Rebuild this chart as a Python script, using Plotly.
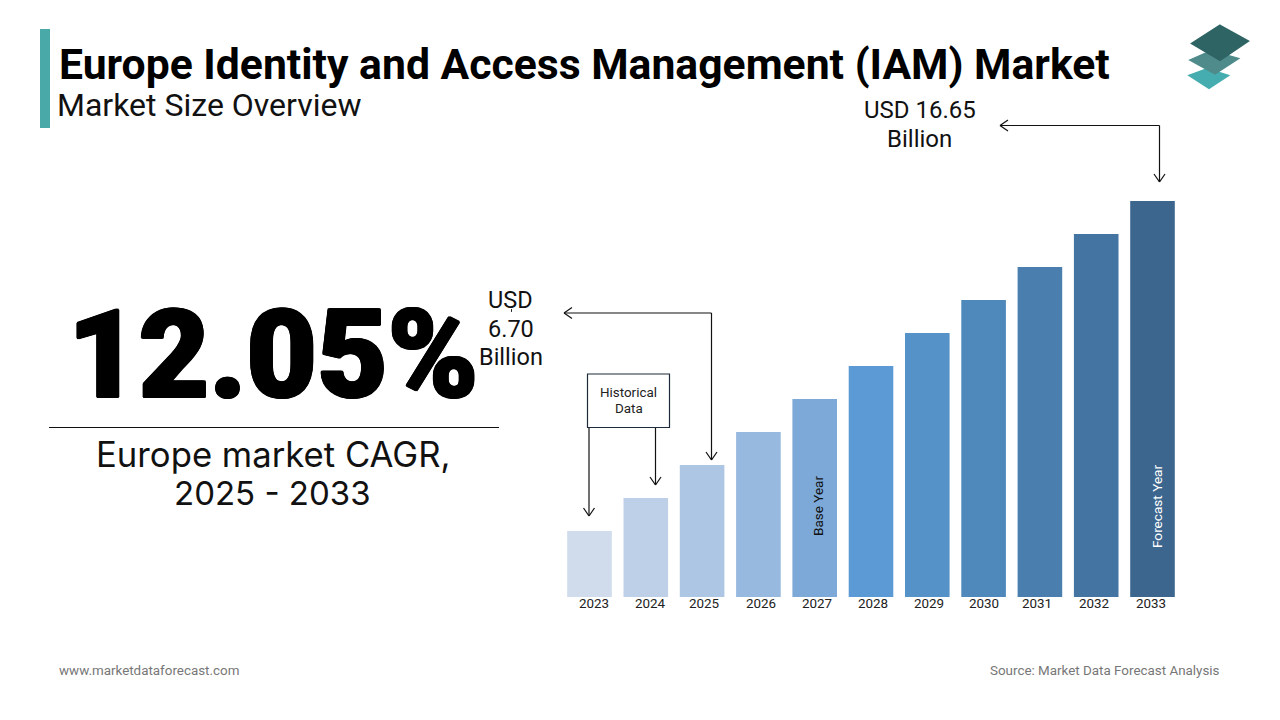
import plotly.graph_objects as go

years = [2023, 2024, 2025, 2026, 2027, 2028, 2029, 2030, 2031, 2032, 2033]
# Bar heights (relative units; the source chart is schematic)
bar_heights = [2, 3, 4, 5, 6, 7, 8, 9, 10, 11, 12]
bar_colors = ["#D0DCEC", "#BDD0E8", "#ADC6E3", "#97B8DF", "#7DA9D8", "#5C9AD5",
              "#5592C8", "#4F88BA", "#4A7EAE", "#4474A1", "#3C668E"]
label_shift_px = [4.5, 4.5, 2, 2.5, 2.5, 2, 2, 0.5, -3, -2, -1.8]

W, H = 1280, 720
STEP = 56.3
X0_PX = 589.5
BASE_PX = 597.0
UNIT_PX = 33.0

def px(x): return x / W
def py(y): return 1 - y / H

def line(x0, y0, x1, y1, color="#111111", width=1.2):
    return dict(type="line", xref="paper", yref="paper", x0=px(x0), y0=py(y0), x1=px(x1), y1=py(y1),
                line=dict(color=color, width=width))

def poly(points, fill):
    d = "M " + " L ".join(f"{px(a):.5f},{py(b):.5f}" for a, b in points) + " Z"
    return dict(type="path", xref="paper", yref="paper", path=d, fillcolor=fill,
                line=dict(color=fill, width=2), layer="above")

def arrow_head(x, y, direction):
    s = 5.5; l = 8
    if direction == "down":
        return [line(x - s, y - l, x, y), line(x + s, y - l, x, y)]
    return [line(x + l, y - s, x, y), line(x + l, y + s, x, y)]

fig = go.Figure(go.Bar(x=years, y=bar_heights, marker=dict(color=bar_colors, line=dict(width=0)),
                       width=44.6 / STEP, hoverinfo="skip"))

shapes = [
    dict(type="rect", xref="paper", yref="paper", x0=px(40), x1=px(50), y0=py(128), y1=py(29),
         fillcolor="#49A9A9", line=dict(width=0)),
    line(49, 427.5, 499, 427.5, "#111111", 1.2),
    dict(type="rect", xref="paper", yref="paper", x0=px(587.5), x1=px(669.5), y0=py(427.5), y1=py(374),
         fillcolor="rgba(255,255,255,0)", line=dict(color="#1D2B3A", width=1.2)),
    line(589, 428, 589, 516), line(655.5, 428, 655.5, 485),
    line(711.5, 313, 711.5, 460), line(564, 313, 711.5, 313),
    line(1159.5, 125.5, 1159.5, 182), line(1000, 125.5, 1159.5, 125.5),
    line(511.5, 309, 511.5, 312, "#333333", 1),
    poly([(1207, 69), (1228, 75.5), (1209, 88), (1189.5, 75.5)], "#45ADAF"),
    poly([(1211, 51), (1238, 58.5), (1215, 73.5), (1190.5, 60)], "#4F8B8B"),
    poly([(1220, 25.5), (1248, 41), (1220, 60), (1192, 43.5)], "#2F6464"),
]
for a in [(589, 516, "down"), (655.5, 485, "down"), (711.5, 460, "down"), (564, 313, "left"),
          (1159.5, 182, "down"), (1000, 125.5, "left")]:
    shapes += arrow_head(*a)

def text(x, y, s, size, color="#111111", family="Roboto", weight=400, anchor="center", angle=0, shadow=None):
    font = dict(family=family, size=size, color=color, weight=weight)
    if shadow:
        font["shadow"] = shadow
    return dict(xref="paper", yref="paper", x=px(x), y=py(y), text=s, showarrow=False, textangle=angle,
                xanchor=anchor, yanchor="middle", align="center", borderpad=0, font=font)

annotations = [
    text(58, 64, "Europe Identity and Access Management (IAM) Market", 42.7, "#000000", weight=700, anchor="left"),
    text(56, 105, "Market Size Overview", 32, "#111111", anchor="left"),
    text(273, 355, "12.05%", 122, "#000000", family="Roboto", weight=900,
         shadow="1.4px 0 0.6px #000, -1.4px 0 0.6px #000, 0 1.4px 0.6px #000, 0 -1.4px 0.6px #000, "
                "1px 1px 0.6px #000, -1px 1px 0.6px #000, 1px -1px 0.6px #000, -1px -1px 0.6px #000"),
    text(273, 454, "Europe market CAGR,", 34.7, "#111111", family="Inter"),
    text(272.5, 493, "2025 - 2033", 33, "#111111", family="Inter"),
    text(510.5, 300, "USD", 23.5), text(511, 329, "6.70", 23.5), text(510.5, 357, "Billion", 23.5),
    text(920, 110, "USD 16.65", 24), text(919.5, 139, "Billion", 24),
    text(628.5, 393, "Historical", 13.4, "#222222"), text(628.5, 408.5, "Data", 13.4, "#222222"),
    text(818, 506, "Base Year", 13.5, "#111111", angle=-90),
    text(1157, 507, "Forecast Year", 13.6, "#FFFFFF", angle=-90),
    text(58, 670.5, "www.marketdataforecast.com", 13.4, "#777777", anchor="left"),
    text(1220.5, 670.5, "Source: Market Data Forecast Analysis", 13.4, "#777777", anchor="right"),
]

fig.update_layout(
    width=W, height=H, margin=dict(l=0, r=0, t=0, b=0), paper_bgcolor="#FFFFFF", plot_bgcolor="rgba(0,0,0,0)",
    showlegend=False, shapes=shapes, annotations=annotations,
    xaxis=dict(range=[2023 - X0_PX / STEP, 2023 + (W - X0_PX) / STEP], visible=False),
    yaxis=dict(range=[-(H - BASE_PX) / UNIT_PX, BASE_PX / UNIT_PX], visible=False, fixedrange=True),
)
for y, s in zip(years, label_shift_px):
    fig.add_annotation(x=y + s / STEP, y=0, xref="x", yref="y", yshift=-6.5, text=str(y), showarrow=False,
                       font=dict(family="Roboto", size=13.4, color="#222222"))

fig.write_html("out.html", config=dict(displayModeBar=False),
               post_script="document.body.style.margin='0';")
